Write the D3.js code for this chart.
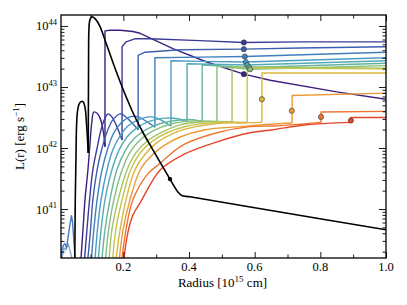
<!DOCTYPE html>
<html><head><meta charset="utf-8">
<script src="https://cdn.jsdelivr.net/npm/d3@7"></script>
<style>body{margin:0;background:#fff} text{font-family:"Liberation Serif","DejaVu Serif",serif;fill:#000}</style>
</head><body><svg id="c" width="407" height="305"></svg>
<script>
// ---- data (x in 1e15 cm, values as log10 L) ----
const xTicks = [0.2, 0.4, 0.6, 0.8, 1.0];
const xMinorTicks = [0.1, 0.3, 0.5, 0.7, 0.9];
const yDecades = [41, 42, 43, 44];
const curveColors = ["#3d1f7e","#3b3b98","#3d5fae","#3f7fbb","#4a9cc5","#52aab8","#66b49f","#84bf7f",
  "#a3c463","#c3c34f","#dcb43c","#ec9a35","#ee7331","#e3452b"];
const c1 = [[0.071,40.20],[0.077,40.66],[0.083,41.15],[0.092,41.64],[0.098,42.05],[0.104,42.43],[0.110,42.59],[0.120,42.57],[0.129,42.49],[0.138,42.30],[0.144,42.02],
  [0.144,43.92],[0.159,43.93],[0.190,43.93],[0.229,43.91],[0.251,43.88],[0.351,43.63],[0.454,43.41],[0.567,43.21],[0.647,43.11],[0.850,42.92],[1.0,42.80]];
const c2 = [[0.082,40.20],[0.089,40.66],[0.097,41.15],[0.107,41.64],[0.120,42.00],[0.132,42.30],[0.144,42.49],[0.153,42.56],[0.165,42.51],[0.181,42.34],[0.196,42.13],
  [0.196,43.66],[0.208,43.74],[0.235,43.79],[0.281,43.79],[0.433,43.76],[0.567,43.73],[0.738,43.74],[1.0,43.74]];
const c3 = [[0.092,40.20],[0.100,40.66],[0.107,41.15],[0.120,41.64],[0.135,42.00],[0.150,42.26],[0.168,42.46],[0.190,42.56],[0.205,42.52],[0.223,42.43],[0.245,42.30],
  [0.245,43.52],[0.266,43.57],[0.373,43.61],[0.567,43.62],[0.738,43.64],[1.0,43.66]];
const c4 = [[0.103,40.20],[0.110,40.66],[0.120,41.15],[0.135,41.64],[0.153,42.00],[0.171,42.25],[0.193,42.41],[0.220,42.51],[0.245,42.51],[0.269,42.44],[0.296,42.34],
  [0.296,43.48],[0.433,43.49],[0.570,43.50],[1.0,43.57]];
const c5 = [[0.114,40.20],[0.121,40.66],[0.132,41.15],[0.150,41.64],[0.168,41.97],[0.190,42.20],[0.214,42.36],[0.245,42.46],[0.275,42.51],[0.302,42.49],[0.324,42.43],[0.345,42.36],
  [0.345,43.43],[0.433,43.42],[0.573,43.41],[1.0,43.48]];
const c6 = [[0.124,40.20],[0.132,40.66],[0.144,41.15],[0.165,41.64],[0.187,41.97],[0.211,42.18],[0.241,42.33],[0.281,42.44],[0.327,42.49],[0.366,42.48],[0.394,42.43],
  [0.394,43.38],[0.577,43.36],[1.0,43.43]];
const c7 = [[0.135,40.20],[0.144,40.66],[0.159,41.15],[0.180,41.64],[0.205,41.95],[0.232,42.15],[0.269,42.30],[0.318,42.41],[0.373,42.46],[0.418,42.46],[0.440,42.43],
  [0.440,43.36],[0.583,43.32],[1.0,43.39]];
const c8 = [[0.146,40.20],[0.155,40.66],[0.171,41.15],[0.196,41.64],[0.220,41.93],[0.251,42.13],[0.290,42.28],[0.342,42.39],[0.403,42.44],[0.464,42.44],[0.485,42.43],
  [0.485,43.34],[0.586,43.29],[1.0,43.35]];
const c9 = [[0.157,40.20],[0.165,40.66],[0.184,41.15],[0.211,41.64],[0.238,41.92],[0.272,42.11],[0.318,42.26],[0.373,42.38],[0.449,42.43],[0.531,42.43],
  [0.531,43.33],[1.0,43.31]];
const c10 = [[0.168,40.20],[0.177,40.66],[0.196,41.15],[0.222,41.64],[0.250,41.91],[0.285,42.10],[0.333,42.25],[0.395,42.36],[0.480,42.42],[0.577,42.42],
  [0.577,43.31],[1.0,43.30]];
const c11 = [[0.178,40.20],[0.190,40.66],[0.208,41.15],[0.235,41.64],[0.265,41.89],[0.300,42.08],[0.352,42.24],[0.420,42.35],[0.510,42.41],[0.555,42.41],[0.622,42.42],
  [0.622,43.23],[1.0,43.23]];
const c12 = [[0.188,40.20],[0.199,40.66],[0.220,41.15],[0.251,41.64],[0.281,41.85],[0.321,42.03],[0.373,42.18],[0.449,42.30],[0.555,42.35],[0.647,42.39],[0.714,42.41],
  [0.714,42.86],[1.0,42.90]];
const c13 = [[0.196,40.20],[0.208,40.66],[0.229,41.15],[0.272,41.56],[0.312,41.75],[0.382,42.05],[0.485,42.25],[0.586,42.35],[0.657,42.36],[0.738,42.39],[0.802,42.42],
  [0.802,42.59],[1.0,42.60]];
const c14 = [[0.202,40.20],[0.214,40.62],[0.229,40.90],[0.251,41.10],[0.312,41.64],[0.382,41.89],[0.485,42.10],[0.586,42.25],[0.656,42.30],[0.758,42.38],[0.893,42.42],
  [0.893,42.50],[1.0,42.50]];
const curves = [c1,c2,c3,c4,c5,c6,c7,c8,c9,c10,c11,c12,c13,c14];
// markers: [x, log10 L, curve index]
const markers = [[0.567,43.21,0],[0.567,43.73,1],[0.567,43.62,2],[0.570,43.50,3],[0.573,43.41,4],[0.577,43.36,5],[0.583,43.32,6],[0.586,43.29,7],
  [0.622,42.80,10],[0.713,42.61,11],[0.802,42.51,12],[0.893,42.45,13]];
const blackRise = [[0.052,40.20],[0.0535,41.15],[0.055,41.64],[0.056,41.97],[0.057,42.30],[0.060,42.59],[0.065,42.72],[0.071,42.76],[0.077,42.76],[0.083,42.67],[0.088,42.38],[0.093,41.92]];
const blackFall = [[0.093,41.92],[0.094,43.44],[0.095,43.93],[0.098,44.10],[0.104,44.15],[0.117,44.10],[0.129,43.99],[0.144,43.77],[0.169,43.39],[0.200,42.95],[0.230,42.57],[0.260,42.25],[0.290,41.97],
  [0.317,41.72],[0.342,41.49],[0.366,41.28],[0.378,41.22],[0.403,41.20],[0.677,40.95],[1.0,40.66]];
const blackMarker = [0.342,41.49];
const earlyA = [[0.010,40.20],[0.013,40.33],[0.0175,40.41],[0.022,40.43],[0.027,40.36],[0.031,40.52],[0.037,40.74],[0.042,40.89],[0.045,40.79],[0.050,40.41],[0.053,40.20]];
const earlyB = [[0.013,40.20],[0.019,40.36],[0.025,40.33],[0.031,40.44],[0.037,40.33],[0.043,40.20]];

// ---- chart ----
const svg = d3.select("#c");
const L = 61, R = 386, T = 15, B = 258;
const x = d3.scaleLinear().domain([0.01, 1.0]).range([L, R]);
const y = d3.scaleLog().domain([10**40.197, 10**44.18]).range([B, T]);
const lineLin = d3.line().x(d => x(d[0])).y(d => y(10**d[1]));
const lineSmooth = d3.line().x(d => x(d[0])).y(d => y(10**d[1])).curve(d3.curveCatmullRom.alpha(0.5));

svg.append("clipPath").attr("id","clip").append("rect").attr("x",L).attr("y",T).attr("width",R-L).attr("height",B-T);
const g = svg.append("g").attr("clip-path","url(#clip)");
function draw(data, gen, color, w){ g.append("path").datum(data).attr("d",gen).attr("fill","none").attr("stroke",color).attr("stroke-width",w).attr("stroke-linejoin","round"); }

draw(earlyB, lineLin, "#7fa9d8", 1.4);
draw(earlyA, lineLin, "#4a78bd", 1.4);
curves.forEach((c,i) => {
  let j = c.findIndex((p,k) => k > 0 && p[0] === c[k-1][0]);
  draw(c.slice(0, j), lineSmooth, curveColors[i], 1.4);
  draw(c.slice(j-1), lineLin, curveColors[i], 1.4);
});
draw(blackRise, lineSmooth, "#000", 1.6);
draw(blackFall, lineSmooth, "#000", 1.6);
g.selectAll("circle.m").data(markers).join("circle").attr("class","m")
  .attr("cx",d=>x(d[0])).attr("cy",d=>y(10**d[1])).attr("r",2.6)
  .attr("fill",d=>curveColors[d[2]]).attr("stroke","#333").attr("stroke-width",0.6);
g.append("circle").attr("cx",x(blackMarker[0])).attr("cy",y(10**blackMarker[1])).attr("r",2.2).attr("fill","#000");

// axes
const minorY = [];
for (let e = 40; e <= 44; e++) for (let k = 2; k <= 9; k++) { const v = k*10**e; if (v >= y.domain()[0] && v <= y.domain()[1]) minorY.push(v); }
const majorY = yDecades.map(e => 10**e);
const ax = svg.append("g");
function addAxis(gen, tr){ const a = ax.append("g").attr("transform",tr).call(gen); a.select(".domain").remove(); a.selectAll("line").attr("stroke","#000").attr("stroke-width",0.9); a.selectAll("text").remove(); }
addAxis(d3.axisBottom(x).tickValues(xTicks).tickSize(-6), `translate(0,${B})`);
addAxis(d3.axisBottom(x).tickValues(xMinorTicks).tickSize(-3.5), `translate(0,${B})`);
addAxis(d3.axisTop(x).tickValues(xTicks).tickSize(-6), `translate(0,${T})`);
addAxis(d3.axisTop(x).tickValues(xMinorTicks).tickSize(-3.5), `translate(0,${T})`);
addAxis(d3.axisLeft(y).tickValues(majorY).tickSize(-7), `translate(${L},0)`);
addAxis(d3.axisLeft(y).tickValues(minorY).tickSize(-3.5), `translate(${L},0)`);
addAxis(d3.axisRight(y).tickValues(majorY).tickSize(-7), `translate(${R},0)`);
addAxis(d3.axisRight(y).tickValues(minorY).tickSize(-3.5), `translate(${R},0)`);
svg.append("rect").attr("x",L).attr("y",T).attr("width",R-L).attr("height",B-T).attr("fill","none").attr("stroke","#000").attr("stroke-width",1.3);

// tick labels
svg.selectAll("text.xl").data(xTicks).join("text").attr("class","xl")
  .attr("x",d=>x(d)).attr("y",B+12.5).attr("text-anchor","middle").attr("font-size",12.5).text(d=>d.toFixed(1));
const yl = svg.selectAll("text.yl").data(yDecades).join("text").attr("class","yl")
  .attr("x",L-4).attr("y",d=>y(10**d)+4.5).attr("text-anchor","end").attr("font-size",12.5);
yl.append("tspan").text("10");
yl.append("tspan").attr("dy",-5.5).attr("font-size",8.5).text(d=>d);

// axis titles
const xt = svg.append("text").attr("x",(L+R)/2 - 1).attr("y",B+29).attr("text-anchor","middle").attr("font-size",13);
xt.append("tspan").text("Radius [10");
xt.append("tspan").attr("dy",-5).attr("font-size",9).text("15");
xt.append("tspan").attr("dy",5).text(" cm]");
const yt = svg.append("text").attr("transform",`translate(24,${(T+B)/2}) rotate(-90)`).attr("text-anchor","middle").attr("font-size",13);
yt.append("tspan").text("L(r) [erg s");
yt.append("tspan").attr("dy",-5).attr("font-size",9).text("\u22121");
yt.append("tspan").attr("dy",5).text("]");
</script></body></html>
